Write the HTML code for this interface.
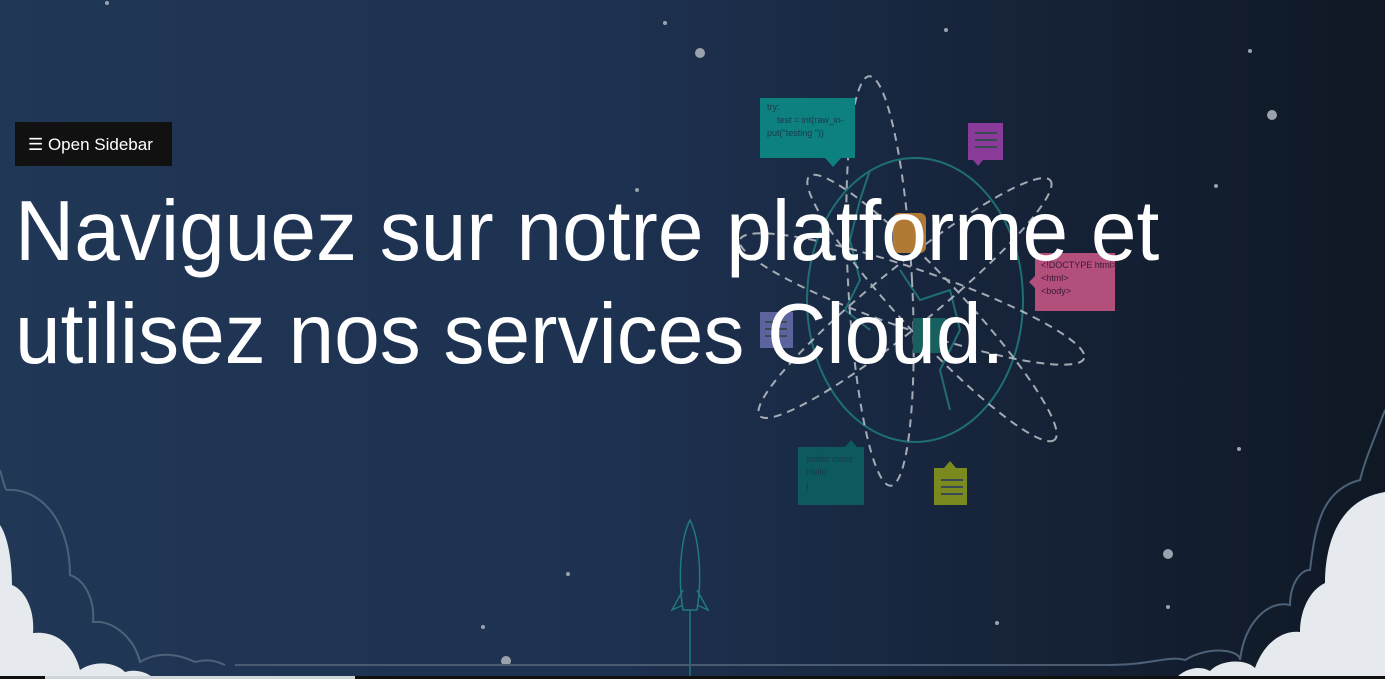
<!DOCTYPE html>
<html><head><meta charset="utf-8"><style>
html,body{margin:0;padding:0;width:1385px;height:679px;overflow:hidden}
body{background:linear-gradient(90deg,#213756 0%,#1d3150 45%,#152237 75%,#0f1824 100%);position:relative;font-family:"Liberation Sans",sans-serif}
.btn{position:absolute;left:15px;top:122px;width:157px;height:44px;background:#111;color:#fff;font-size:17px;line-height:46px;box-sizing:border-box;padding-left:13px}
h1{position:absolute;left:15px;top:180px;margin:0;color:#fff;font-weight:300;font-size:85px;line-height:103px;white-space:nowrap;transform:scaleX(0.965);transform-origin:0 0}
svg{position:absolute;left:0;top:0}
</style></head><body>
<svg width="1385" height="679">
<g fill="#9aa3ad">
<circle cx="107" cy="3" r="2"/><circle cx="665" cy="23" r="2"/><circle cx="946" cy="30" r="2"/><circle cx="1250" cy="51" r="2"/><circle cx="637" cy="190" r="2"/><circle cx="1216" cy="186" r="2"/><circle cx="568" cy="574" r="2"/><circle cx="483" cy="627" r="2"/><circle cx="1168" cy="607" r="2"/><circle cx="997" cy="623" r="2"/><circle cx="1239" cy="449" r="2"/>
<circle cx="700" cy="53" r="5"/><circle cx="1272" cy="115" r="5"/><circle cx="1168" cy="554" r="5"/><circle cx="506" cy="661" r="5"/>
</g>
<g fill="none" stroke="#1f6f72" stroke-width="2">
<ellipse cx="915" cy="300" rx="108" ry="142"/>
<path d="M870 170 L860 200 L850 240 L860 280 L845 310 L870 330"/>
<path d="M900 270 L920 300 L950 290 L960 330 L940 370 L950 410"/>
</g>
<g fill="none" stroke="#c8ccd2" stroke-width="2" stroke-dasharray="8 6" opacity="0.8">
<ellipse cx="880" cy="281" rx="32" ry="205" transform="rotate(-3 880 281)"/>
<ellipse cx="905" cy="298" rx="187" ry="30" transform="rotate(-39 905 298)"/>
<ellipse cx="932" cy="308" rx="180" ry="30" transform="rotate(47 932 308)"/>
<ellipse cx="912" cy="299" rx="182" ry="30" transform="rotate(19 912 299)"/>
</g>
<rect x="760" y="98" width="95" height="60" fill="#0d8080"/><path d="M825 158l8 9 8-9z" fill="#0d8080"/>
<text x="767" y="110" font-size="9" fill="#1b3a4a">try:</text><text x="777" y="123" font-size="9" fill="#1b3a4a">test = int(raw_in-</text><text x="767" y="136" font-size="9" fill="#1b3a4a">put("testing "))</text>
<rect x="968" y="123" width="35" height="37" fill="#8a3a99"/><path d="M973 160l5 6 5-6z" fill="#8a3a99"/>
<rect x="1035" y="253" width="80" height="58" fill="#b24f7a"/><path d="M1035 276l-6 6 6 6z" fill="#b24f7a"/>
<text x="1041" y="268" font-size="9" fill="#3a1a3a">&lt;!DOCTYPE html&gt;</text><text x="1041" y="281" font-size="9" fill="#3a1a3a">&lt;html&gt;</text><text x="1041" y="294" font-size="9" fill="#3a1a3a">&lt;body&gt;</text>
<rect x="893" y="213" width="33" height="40" fill="#b07a35" rx="6"/>
<rect x="760" y="312" width="33" height="36" fill="#5c649e"/>
<rect x="913" y="318" width="33" height="35" fill="#17605f"/>
<rect x="798" y="447" width="66" height="58" fill="#0d5a5e"/><path d="M845 447l6-7 6 7z" fill="#0d5a5e"/>
<text x="806" y="462" font-size="9" fill="#1b3a4a">public class</text><text x="806" y="475" font-size="9" fill="#1b3a4a">Hello</text><text x="806" y="488" font-size="9" fill="#1b3a4a">{</text>
<rect x="934" y="468" width="33" height="37" fill="#7a8a1e"/><path d="M944 468l6-7 6 7z" fill="#7a8a1e"/>
<g stroke="#3a4a55" stroke-width="2"><path d="M975 133h22M975 140h22M975 147h22M941 480h22M941 487h22M941 494h22M765 322h22M765 329h22M765 336h22"/></g>
<g fill="none" stroke="#1f7a78" stroke-width="1.5"><path d="M690 520 C680 540 678 580 683 610 L697 610 C702 580 700 540 690 520Z M683 590 L672 610 L683 605 M697 590 L708 610 L697 605 M690 610 L690 679"/></g>
<path d="M235 665 H1110" stroke="#4a5a70" stroke-width="2"/>
<path d="M0 470 C3 480 5 490 7 490 C40 488 70 520 70 575 C85 580 95 600 93 622 C115 620 135 640 140 662 C160 650 180 655 195 662 C210 658 218 662 225 665" fill="none" stroke="#4d6178" stroke-width="2"/>
<path d="M1110 665 C1150 665 1170 655 1185 660 C1210 645 1240 650 1240 660 C1245 620 1270 600 1290 605 C1290 585 1300 570 1310 570 C1315 530 1320 490 1360 480 C1365 460 1370 450 1385 410" fill="none" stroke="#4d6178" stroke-width="2"/>
<path d="M0 525 C10 540 12 570 12 585 C25 590 35 610 33 633 C60 630 75 650 80 670 C95 660 115 662 125 672 C140 668 150 675 155 679 L0 679Z" fill="#e6eaee"/>
<path d="M1175 679 C1185 668 1200 665 1210 671 C1220 660 1245 658 1255 668 C1265 640 1285 630 1300 632 C1300 610 1310 590 1325 583 C1325 550 1335 500 1385 492 L1385 679Z" fill="#e6eaee"/>
<rect x="0" y="676" width="1385" height="3" fill="#111"/>
<rect x="45" y="676" width="310" height="3" fill="#cfd4d8"/>
</svg>
<div class="btn">☰ Open Sidebar</div>
<h1>Naviguez sur notre platforme et<br>utilisez nos services Cloud.</h1>
</body></html>
